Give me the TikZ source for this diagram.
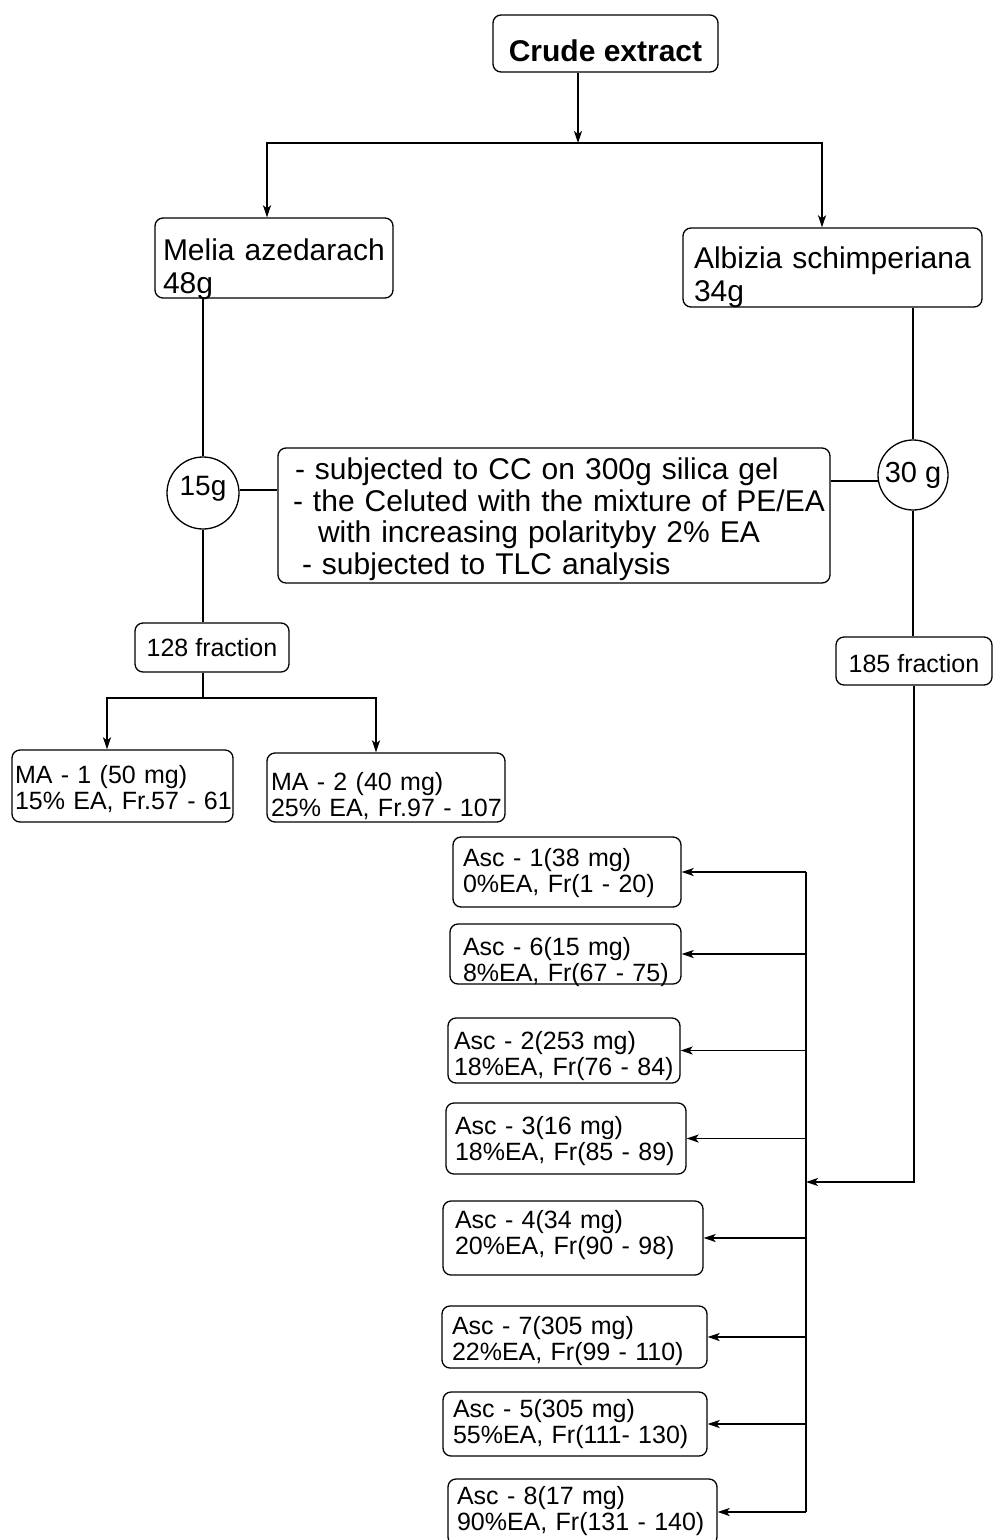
\documentclass[tikz,border=0pt]{standalone}
\usepackage{fontspec}
\setmainfont{Liberation Sans}
\usetikzlibrary{arrows.meta}
\newcommand{\twoline}[2]{\mbox{#1}\\\mbox{#2}}

\begin{document}
\begin{tikzpicture}[x=1pt, y=-1pt,
    box/.style={draw, rounded corners=8pt, line width=1.3pt, inner ysep=0pt, align=left},
    smalltxt/.style={font=\fontsize{25}{26}\selectfont},
    bigtxt/.style={font=\fontsize{30}{33}\selectfont},
    mass/.style={draw, circle, line width=1.3pt, inner sep=0pt},
    conn/.style={line width=1.8pt},
    arr/.style={line width=1.8pt, -{Stealth[length=12pt, width=8pt, inset=3pt]}}]
    \useasboundingbox (0,0) rectangle (993,1540);

    \node[box, font=\bfseries\fontsize{30}{33}\selectfont, minimum width=225pt, inner xsep=0pt,
        text height=46pt, text depth=11pt] (crude) at (605.5,43.5) {Crude extract};
    \node[box, bigtxt, text width=222pt, inner xsep=8pt, text height=42pt, text depth=38pt]
        (melia) at (274,258) {\twoline{Melia azedarach}{48g}};
    \node[box, bigtxt, text width=277pt, inner xsep=11pt, text height=40pt, text depth=39pt]
        (albizia) at (832.5,267.5) {\twoline{Albizia schimperiana}{34g}};

    \node[mass, minimum size=72pt, font=\fontsize{28}{28}\selectfont, text height=20pt, text depth=16pt]
        (c15) at (203,493) {15g};
    \node[mass, minimum size=70pt, font=\fontsize{29}{29}\selectfont] (c30) at (913,475) {30 g};
    \node[box, font=\fontsize{30}{31.5}\selectfont, text width=536pt, inner xsep=8pt,
        text height=31.5pt, text depth=103.5pt] (cc) at (554,515.5)
        {\mbox{\hspace*{9pt}- subjected to CC on 300g silica gel}\\
         \mbox{\hspace*{7pt}- the Celuted with the mixture of PE/EA}\\
         \mbox{\hspace*{32pt}with increasing polarityby 2\% EA}\\
         \mbox{\hspace*{16pt}- subjected to TLC analysis}};

    \node[box, smalltxt, minimum width=154pt, inner xsep=0pt, text height=33pt, text depth=16pt]
        (f128) at (212,647.5) {128 fraction};
    \node[box, smalltxt, minimum width=156pt, inner xsep=0pt, text height=35pt, text depth=13pt]
        (f185) at (914,661) {185 fraction};

    \node[box, smalltxt, text width=215pt, inner xsep=3pt, text height=33pt, text depth=39pt]
        (ma1) at (122.5,786) {\twoline{MA - 1 (50 mg)}{15\% EA, Fr.57 - 61}};
    \node[box, smalltxt, text width=230pt, inner xsep=4pt, text height=37pt, text depth=32pt]
        (ma2) at (386,787.5) {\twoline{MA - 2 (40 mg)}{25\% EA, Fr.97 - 107}};

    \node[box, smalltxt, text width=208pt, inner xsep=10pt, text height=29pt, text depth=41pt]
        (asc1) at (567,872) {\twoline{Asc - 1(38 mg)}{0\%EA, Fr(1 - 20)}};
    \node[box, smalltxt, text width=205pt, inner xsep=13pt, text height=31pt, text depth=29pt]
        (asc6) at (565.5,954) {\twoline{Asc - 6(15 mg)}{8\%EA, Fr(67 - 75)}};
    \node[box, smalltxt, text width=220pt, inner xsep=6pt, text height=31pt, text depth=34pt]
        (asc2) at (564,1050.5) {\twoline{Asc - 2(253 mg)}{18\%EA, Fr(76 - 84)}};
    \node[box, smalltxt, text width=222pt, inner xsep=9pt, text height=31pt, text depth=40pt]
        (asc3) at (566,1138.5) {\twoline{Asc - 3(16 mg)}{18\%EA, Fr(85 - 89)}};
    \node[box, smalltxt, text width=236pt, inner xsep=12pt, text height=27pt, text depth=47pt]
        (asc4) at (573,1238) {\twoline{Asc - 4(34 mg)}{20\%EA, Fr(90 - 98)}};
    \node[box, smalltxt, text width=245pt, inner xsep=10pt, text height=28pt, text depth=34pt]
        (asc7) at (574.5,1337) {\twoline{Asc - 7(305 mg)}{22\%EA, Fr(99 - 110)}};
    \node[box, smalltxt, text width=244pt, inner xsep=10pt, text height=25pt, text depth=39pt]
        (asc5) at (575,1424) {\twoline{Asc - 5(305 mg)}{55\%EA, Fr(111- 130)}};
    \node[box, smalltxt, text width=251pt, inner xsep=9pt, text height=25pt, text depth=41pt]
        (asc8) at (582.5,1512) {\twoline{Asc - 8(17 mg)}{90\%EA, Fr(131 - 140)}};

    \coordinate (split) at (578,143);
    \coordinate (lsplit) at (267,143);
    \coordinate (rsplit) at (822,143);
    \draw[arr] (crude.south -| split) -- (split);
    \draw[arr] (split) -| (lsplit |- melia.north);
    \draw[arr] (split) -| (rsplit |- albizia.north);

    \draw[conn] (melia.south -| c15.north) -- (c15.north);
    \draw[conn] (c15.5) -- (c15.5 -| cc.west);
    \draw[conn] (c15.south) -- (c15.south |- f128.north);
    \coordinate (mjoin) at (203,698);
    \coordinate (ml) at (107,698);
    \coordinate (mr) at (376,698);
    \draw[conn] (f128.south -| mjoin) -- (mjoin);
    \draw[arr] (mjoin) -| (ml |- ma1.north);
    \draw[arr] (mjoin) -| (mr |- ma2.north);

    \draw[conn] (albizia.south -| c30.north) -- (c30.north);
    \draw[conn] (c30.190) -- (c30.190 -| cc.east);
    \draw[conn] (c30.south) -- (c30.south |- f185.north);
    \coordinate (bus) at (806,1182);
    \draw[arr] (f185.south) |- (bus);
    \draw[conn] (asc1.east -| bus) -- (asc8.east -| bus);
    \foreach \n in {asc1,asc6,asc2,asc3,asc4,asc7,asc5,asc8}
        \draw[arr] (\n.east -| bus) -- (\n.east);
\end{tikzpicture}
\end{document}
